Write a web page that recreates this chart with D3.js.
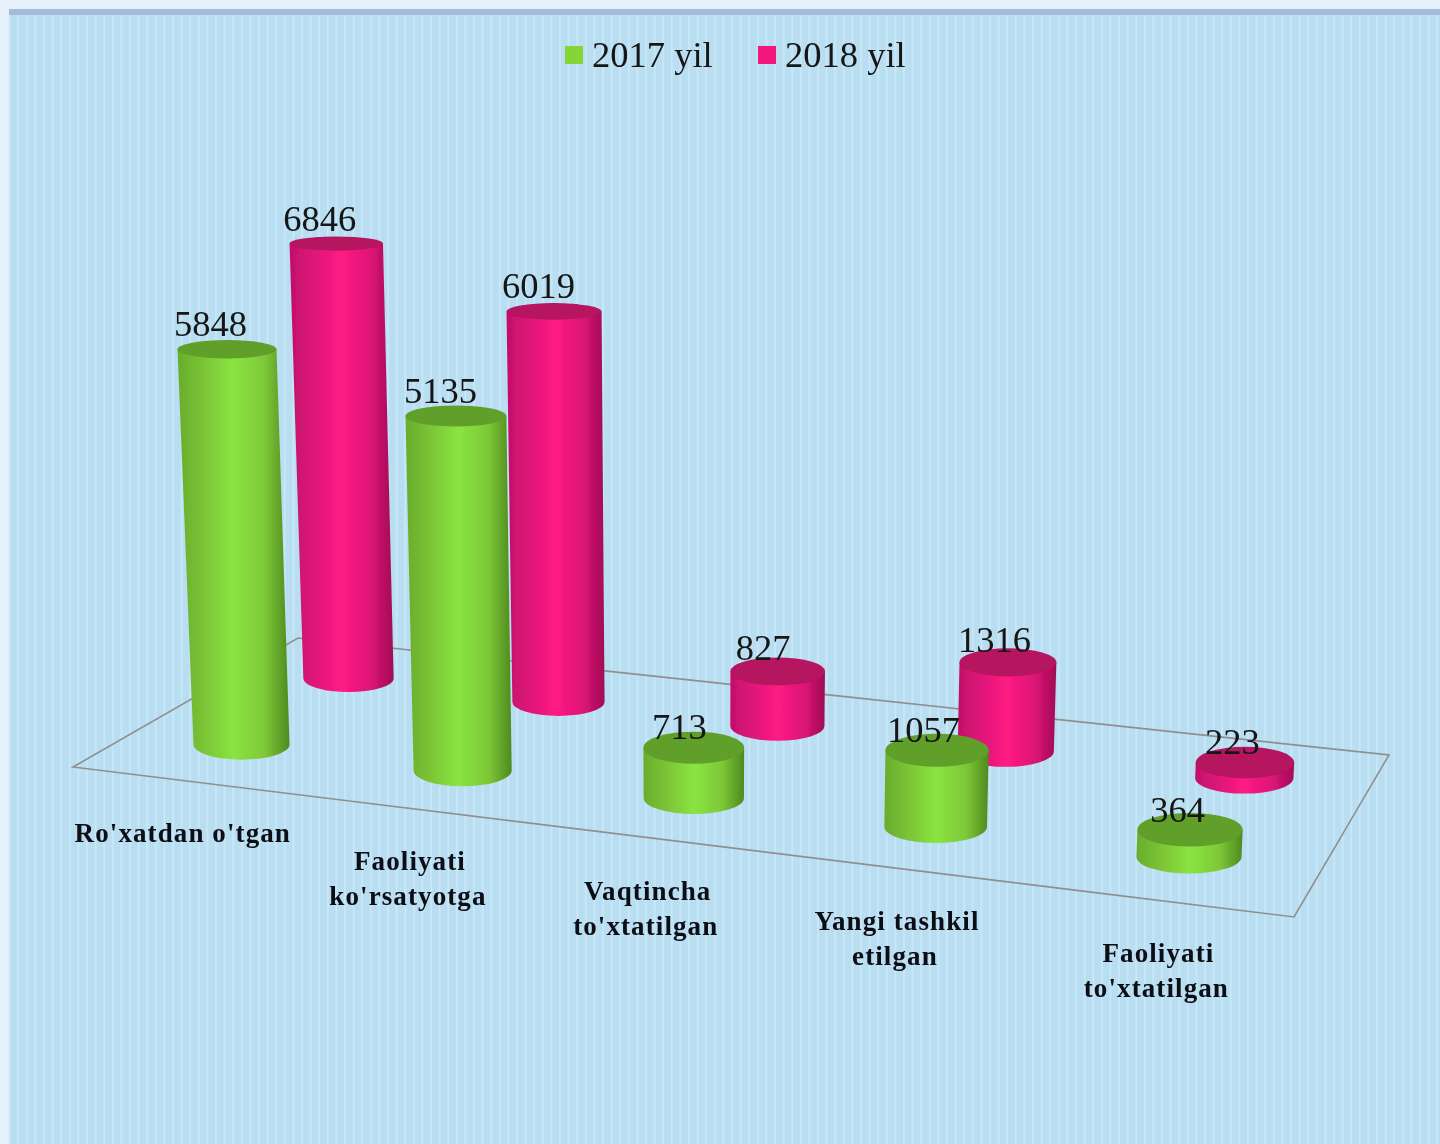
<!DOCTYPE html>
<html><head><meta charset="utf-8">
<script src="https://cdn.jsdelivr.net/npm/d3@7/dist/d3.min.js"></script>
<style>html,body{margin:0;padding:0;background:#e6f0fa;overflow:hidden}svg{display:block}</style>
</head><body><svg id="c" width="1440" height="1144"></svg>
<script>
const categories = ["Ro'xatdan o'tgan", "Faoliyati ko'rsatyotga", "Vaqtincha to'xtatilgan", "Yangi tashkil etilgan", "Faoliyati to'xtatilgan"];
const categoryLines = [["Ro'xatdan o'tgan"], ["Faoliyati", "ko'rsatyotga"], ["Vaqtincha", "to'xtatilgan"], ["Yangi tashkil", "etilgan"], ["Faoliyati", "to'xtatilgan"]];
const seriesNames = ["2017 yil", "2018 yil"];
const values2017 = [5848, 5135, 713, 1057, 364];
const values2018 = [6846, 6019, 827, 1316, 223];

const W = 1440, H = 1144;
const svg = d3.select("#c");
const defs = svg.append("defs");

// page and panel
const pat = defs.append("pattern").attr("id", "stripes").attr("patternUnits", "userSpaceOnUse")
  .attr("width", 8.6).attr("height", 20);
pat.append("rect").attr("width", 8.6).attr("height", 20).attr("fill", "#badef1");
pat.append("rect").attr("x", 0).attr("width", 2).attr("height", 20).attr("fill", "#c5e7f8");
const blur = defs.append("filter").attr("id", "soft").attr("x", "-5%").attr("y", "-5%").attr("width", "110%").attr("height", "110%");
blur.append("feGaussianBlur").attr("stdDeviation", 0.55);

svg.append("rect").attr("width", W).attr("height", H).attr("fill", "#e6f0fa");
svg.append("rect").attr("x", 9).attr("y", 9).attr("width", W - 9).attr("height", 7).attr("fill", "#a3bbdb");
svg.append("rect").attr("x", 9).attr("y", 15).attr("width", W - 9).attr("height", H - 15).attr("fill", "url(#stripes)");

const chart = svg.append("g").attr("filter", "url(#soft)");

// floor plane perspective: unit square -> screen quad
const q = [[73, 767], [1294, 917], [1389, 755], [298, 638]];
const dx1 = q[1][0] - q[2][0], dy1 = q[1][1] - q[2][1], dx2 = q[3][0] - q[2][0], dy2 = q[3][1] - q[2][1];
const sx = q[0][0] - q[1][0] + q[2][0] - q[3][0], sy = q[0][1] - q[1][1] + q[2][1] - q[3][1];
const det = dx1 * dy2 - dx2 * dy1;
const g0 = (sx * dy2 - sy * dx2) / det, h0 = (dx1 * sy - dy1 * sx) / det;
const a0 = q[1][0] - q[0][0] + g0 * q[1][0], b0 = q[3][0] - q[0][0] + h0 * q[3][0];
const d0 = q[1][1] - q[0][1] + g0 * q[1][1], e0 = q[3][1] - q[0][1] + h0 * q[3][1];
function project(u, v) {
  const w = g0 * u + h0 * v + 1;
  return { x: (a0 * u + b0 * v + q[0][0]) / w, y: (d0 * u + e0 * v + q[0][1]) / w, w };
}

const uScale = d3.scaleBand().domain(categories).range([0, 1]);
const vScale = d3.scaleBand().domain(seriesNames).range([0, 1]);
const hScale = d3.scaleLinear().domain([0, 7000]).range([0, 483]);
const color = d3.scaleOrdinal().domain(seriesNames).range(["#84d534", "#f3157c"]);
const capColor = d3.scaleOrdinal().domain(seriesNames).range(["#609f2a", "#b6125e"]);
const VPX = 700, LEAN = 8e-5, RADIUS = 49;

const ramps = {
  "2017 yil": ["#68ad2c", "#7cc636", "#8ae441", "#7ec838", "#4d8a1e"],
  "2018 yil": ["#c2106a", "#e0167a", "#ff1b82", "#dc1476", "#a00c54"]
};
seriesNames.forEach((s, i) => {
  const gr = defs.append("linearGradient").attr("id", "body" + i);
  ramps[s].forEach((c, k) => gr.append("stop").attr("offset", [0, .25, .5, .78, 1][k]).attr("stop-color", c));
});

// floor outline
chart.append("path").attr("d", d3.line()(q) + "Z").attr("fill", "none").attr("stroke", "#8f8f8f").attr("stroke-width", 1.6);

const ryOf = (rx, y) => rx * Math.min(0.32, 0.15 + 0.00033 * (y - 238));

function cyl(name, vals, idx) {
  return vals.map((val, i) => {
    const u = uScale(categories[i]) + uScale.bandwidth() / 2;
    const v = vScale(name) + vScale.bandwidth() / 2;
    const p = project(u, v);
    const h = hScale(val) / p.w;
    const f = 1 + LEAN * h;
    const rb = RADIUS / p.w, rt = rb * f;
    const tx = VPX + (p.x - VPX) * f, ty = p.y - h;
    return { name, idx, val, u, x: p.x, y: p.y, rb, rt, tx, ty, ryb: ryOf(rb, p.y), ryt: ryOf(rt, ty) };
  });
}
const back = cyl(seriesNames[1], values2018, 1);
const front = cyl(seriesNames[0], values2017, 0);
const all = back.concat(front);

const cyls = chart.selectAll("g.cyl").data(all).join("g").attr("class", "cyl");
cyls.append("path").attr("fill", d => `url(#body${d.idx})`)
  .attr("d", d => `M${d.tx - d.rt},${d.ty} L${d.x - d.rb},${d.y} A${d.rb},${d.ryb} 0 0 0 ${d.x + d.rb},${d.y} L${d.tx + d.rt},${d.ty} Z`);
cyls.append("ellipse").attr("cx", d => d.tx).attr("cy", d => d.ty).attr("rx", d => d.rt).attr("ry", d => d.ryt)
  .attr("fill", d => capColor(d.name));

// value labels
chart.selectAll("text.val").data(all).join("text").attr("class", "val")
  .attr("x", d => d.tx - 17 + 5 * d.u)
  .attr("y", d => d.ty - 13 + Math.max(0, d.ryt - 12) * 1.1)
  .attr("text-anchor", "middle")
  .attr("font-family", "'Liberation Serif', serif").attr("font-size", 36.5).attr("fill", "#141414")
  .text(d => d.val);

// category labels
categories.forEach((c, i) => {
  const u = uScale(c) + uScale.bandwidth() / 2;
  const p = project(u, 0);
  categoryLines[i].forEach((line, k) => {
    chart.append("text").attr("x", p.x - (k ? 2 : 0)).attr("y", p.y + 62 + k * 35)
      .attr("text-anchor", "middle")
      .attr("font-family", "'Liberation Serif', serif").attr("font-weight", "bold")
      .attr("font-size", 27).attr("letter-spacing", 1.1).attr("fill", "#0e0e14")
      .text(line);
  });
});

// legend
const legendX = d3.scaleOrdinal().domain(seriesNames).range([565, 758]);
const lg = chart.selectAll("g.lg").data(seriesNames).join("g").attr("class", "lg")
  .attr("transform", d => `translate(${legendX(d)},46)`);
lg.append("rect").attr("width", 18).attr("height", 18).attr("fill", d => color(d));
lg.append("text").attr("x", 27).attr("y", 21).attr("font-family", "'Liberation Serif', serif")
  .attr("font-size", 36.5).attr("fill", "#141414").text(d => d);
</script></body></html>
